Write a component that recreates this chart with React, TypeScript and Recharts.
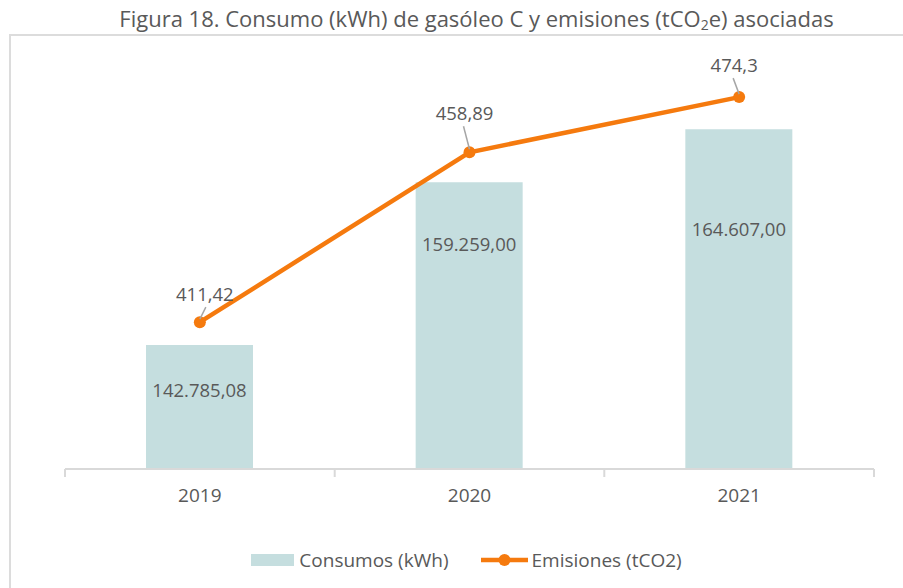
import { ComposedChart, Bar, Line, XAxis, YAxis, Legend } from "recharts";

const years = ["2019", "2020", "2021"];
const consumos = [142785.08, 159259.0, 164607.0];
const emisiones = [411.42, 458.89, 474.3];
const consumoLabels = ["142.785,08", "159.259,00", "164.607,00"];
const emisionLabels = ["411,42", "458,89", "474,3"];

// label placement tweaks (px), copied by eye from the original figure
const barLabelDrop = [44, 61, 99];
const lineLabelShift = [
  { dx: 5, dy: -29 },
  { dx: -5, dy: -40 },
  { dx: -5, dy: -33 },
];

const data = years.map((y, i) => ({ year: y, consumo: consumos[i], emision: emisiones[i] }));

const FONT = "'Open Sans', 'Segoe UI', sans-serif";
const TEXT = "#595959";
const BAR = "#c5dedf";
const ORANGE = "#f57a0e";

function BarValue(props: any) {
  const { x, y, width, index } = props;
  return (
    <text x={x + width / 2} y={y + barLabelDrop[index]} textAnchor="middle" dominantBaseline="central"
      fill={TEXT} fontSize={18.5} fontFamily={FONT}>
      {consumoLabels[index]}
    </text>
  );
}

function LineValue(props: any) {
  const { x, y, index } = props;
  const s = lineLabelShift[index];
  const tx = x + s.dx;
  const ty = y + s.dy;
  return (
    <g>
      <line x1={x} y1={y - 3} x2={tx + (s.dx > 0 ? 1 : -1)} y2={ty + 14} stroke="#a6a6a6" strokeWidth={1.5} />
      <text x={tx} y={ty} textAnchor="middle" dominantBaseline="central" fill={TEXT} fontSize={18.5} fontFamily={FONT}>
        {emisionLabels[index]}
      </text>
    </g>
  );
}

function LegendBox() {
  return (
    <div style={{ display: "flex", justifyContent: "center", alignItems: "center", height: 24, marginLeft: 30,
      fontFamily: FONT, fontSize: 19, color: TEXT }}>
      <span style={{ width: 43, height: 12, background: BAR, display: "inline-block", marginRight: 5 }} />
      <span>Consumos (kWh)</span>
      <svg width={47} height={14} style={{ marginLeft: 32, marginRight: 4 }}>
        <line x1={0} y1={7} x2={47} y2={7} stroke={ORANGE} strokeWidth={4.5} />
        <circle cx={23.5} cy={7} r={6} fill={ORANGE} />
      </svg>
      <span>Emisiones (tCO2)</span>
    </div>
  );
}

export default function App() {
  return (
    <div style={{ position: "absolute", left: 0, top: 0, width: 903, height: 588, background: "#fff", overflow: "hidden" }}>
      <div style={{ position: "absolute", left: 9, top: 34, width: 1000, height: 700,
        borderTop: "2px solid #dcdcdc", borderLeft: "2px solid #dcdcdc" }} />
      <div style={{ position: "absolute", left: 0, top: 3, width: 953, textAlign: "center",
        fontFamily: FONT, fontSize: 22, color: TEXT, whiteSpace: "nowrap", lineHeight: "30px" }}>
        Figura 18. Consumo (kWh) de gasóleo C y emisiones (tCO<sub style={{ fontSize: 14, verticalAlign: "-3px", lineHeight: 0 }}>2</sub>e) asociadas
      </div>
      <div style={{ position: "absolute", left: 0, top: 0 }}>
        <ComposedChart width={903} height={588} data={data}
          margin={{ top: 76, right: 29, bottom: 55, left: 65 }}>
          <XAxis dataKey="year" axisLine={{ stroke: "#d9d9d9", strokeWidth: 2 }}
            tickLine={false} height={40}
            tick={{ fill: TEXT, fontSize: 19, fontFamily: FONT }} tickMargin={14} />
          <YAxis yAxisId="kwh" hide domain={[130257, 170000]} allowDataOverflow />
          <YAxis yAxisId="co2" hide orientation="right" domain={[370.4, 480.2]} allowDataOverflow />
          <Legend verticalAlign="bottom" content={<LegendBox />}
            wrapperStyle={{ left: 0, top: 548, width: 903 }} />
          <Bar yAxisId="kwh" dataKey="consumo" name="Consumos (kWh)" fill={BAR} barSize={107}
            isAnimationActive={false} label={<BarValue />} />
          <Line yAxisId="co2" dataKey="emision" name="Emisiones (tCO2)" stroke={ORANGE} strokeWidth={4.5}
            dot={{ r: 6, fill: ORANGE, stroke: ORANGE, strokeWidth: 0 }} activeDot={false}
            isAnimationActive={false} label={<LineValue />} />
        </ComposedChart>
      </div>
      <svg style={{ position: "absolute", left: 0, top: 0, pointerEvents: "none" }} width={903} height={588}>
        {[65, 334.7, 604.3, 874].map((x) => (
          <line key={x} x1={x} y1={469} x2={x} y2={477} stroke="#d9d9d9" strokeWidth={2} />
        ))}
      </svg>
    </div>
  );
}
